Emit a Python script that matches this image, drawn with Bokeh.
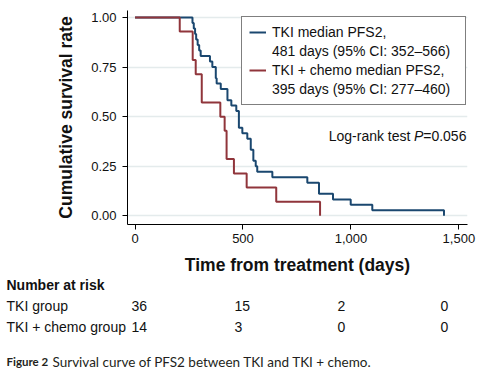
from bokeh.plotting import figure
from bokeh.models import Range1d, Legend, LegendItem, NumeralTickFormatter, FixedTicker
from bokeh.layouts import column
from bokeh.embed import file_html
from bokeh.resources import INLINE
from bokeh.core.properties import value

# ---------------- data ----------------
tki_time = [0, 266, 272, 278, 283, 290, 297, 304, 347, 358, 374, 378, 397, 428, 446,
            469, 481, 497, 520, 536, 548, 559, 566, 636, 798, 852, 917, 999, 1099, 1431]
tki_surv = [1.0, 0.972, 0.944, 0.917, 0.889, 0.861, 0.833, 0.806, 0.778, 0.75, 0.694,
            0.667, 0.639, 0.583, 0.556, 0.528, 0.444, 0.417, 0.389, 0.333, 0.278, 0.25,
            0.222, 0.194, 0.167, 0.111, 0.083, 0.056, 0.028, 0.0]
chemo_time = [0, 207, 267, 281, 309, 395, 415, 424, 458, 517, 654, 857]
chemo_surv = [1.0, 0.929, 0.786, 0.714, 0.571, 0.5, 0.429, 0.286, 0.214, 0.143, 0.071, 0.0]

x_ticks = [0, 500, 1000, 1500]
y_ticks = [0.0, 0.25, 0.5, 0.75, 1.0]

legend_lines = ["TKI median PFS2,", "481 days (95% CI: 352\u2013566)",
                "TKI + chemo median PFS2,", "395 days (95% CI: 277\u2013460)"]
logrank_label = "Log-rank test"
logrank_p = "=0.056"

risk_header = "Number at risk"
risk_times = [0, 500, 1000, 1500]
group_labels = ["TKI group", "TKI + chemo group"]
risk_tki = [36, 15, 2, 0]
risk_chemo = [14, 3, 0, 0]

caption_bold = "Figure 2"
caption_text = "Survival curve of PFS2 between TKI and TKI + chemo."

# ---------------- styling ----------------
FONT = "Liberation Sans"
BLUE = "#1a476f"
RED = "#90353b"
TXT = "#111111"

W = 480
p = figure(width=W, height=277, output_backend="svg", toolbar_location=None,
           x_range=Range1d(-35, 1540), y_range=Range1d(-0.0435, 1.035),
           min_border_left=127, min_border_right=W - 467, min_border_top=10,
           min_border_bottom=51)
p.frame_align = False
p.outline_line_color = None
p.background_fill_color = "white"
p.xgrid.visible = False
p.ygrid.grid_line_color = "#e4ebec"
p.ygrid.grid_line_width = 1.5

p.xaxis.ticker = FixedTicker(ticks=x_ticks)
p.xaxis.formatter = NumeralTickFormatter(format="0,0")
p.yaxis.ticker = FixedTicker(ticks=y_ticks)
p.yaxis.formatter = NumeralTickFormatter(format="0.00")
p.xaxis.axis_label = "Time from treatment (days)"
p.yaxis.axis_label = "Cumulative survival rate"

for ax in (p.xaxis[0], p.yaxis[0]):
    ax.axis_line_color = "black"
    ax.axis_line_width = 1
    ax.major_tick_line_color = "black"
    ax.major_tick_out = 5
    ax.major_tick_in = 0
    ax.minor_tick_line_color = None
    ax.major_label_text_font = FONT
    ax.major_label_text_font_size = "13px"
    ax.major_label_text_color = TXT
    ax.axis_label_text_font = FONT
    ax.axis_label_text_font_style = "bold"
    ax.axis_label_text_font_size = "17.5px"
    ax.axis_label_text_color = TXT
p.xaxis.major_label_standoff = 4
p.xaxis.axis_label_standoff = 9
p.yaxis.major_label_standoff = 6
p.yaxis.axis_label_standoff = 12
p.yaxis.major_label_orientation = "horizontal"

r_tki = p.step(tki_time, tki_surv, mode="after", line_color=BLUE, line_width=2)
r_chemo = p.step(chemo_time, chemo_surv, mode="after", line_color=RED, line_width=2)
blank_a = p.line(x=[], y=[], line_alpha=0)
blank_b = p.line(x=[], y=[], line_alpha=0)

legend = Legend(items=[
    LegendItem(label=legend_lines[0], renderers=[r_tki]),
    LegendItem(label=legend_lines[1], renderers=[blank_a]),
    LegendItem(label=legend_lines[2], renderers=[r_chemo]),
    LegendItem(label=legend_lines[3], renderers=[blank_b]),
], location=(114, 119))
legend.border_line_color = "black"
legend.border_line_width = 1
legend.background_fill_color = "white"
legend.background_fill_alpha = 1
legend.padding = 7
legend.spacing = 3
legend.margin = 0
legend.label_height = 16
legend.label_width = 186
legend.glyph_height = 16
legend.glyph_width = 17
legend.label_standoff = 6
legend.label_text_font = FONT
legend.label_text_font_size = "14px"
legend.label_text_color = TXT
p.add_layout(legend)

lr_x = [1535]
lr_y = [0.405]
p.text(x=lr_x, y=lr_y, text=[logrank_p], text_align="right", text_baseline="middle",
       text_font=value(FONT), text_font_size="14px", text_color=TXT)
p.text(x=lr_x, y=lr_y, text=["P"], x_offset=-43, text_align="right", text_baseline="middle",
       text_font=value(FONT), text_font_size="14px", text_font_style="italic", text_color=TXT)
p.text(x=lr_x, y=lr_y, text=[logrank_label], x_offset=-56, text_align="right",
       text_baseline="middle", text_font=value(FONT), text_font_size="14px", text_color=TXT)

# ---------------- number-at-risk table ----------------
row_px = 21.7
first_row_px = 28.0
t_h = 93
x0_px = 131.0
left_px = 6.0
px_per_day = 0.206
t = figure(width=W, height=t_h, output_backend="svg", toolbar_location=None,
           x_range=Range1d(-x0_px / px_per_day, (W - x0_px) / px_per_day),
           y_range=Range1d((t_h - first_row_px) / row_px, -first_row_px / row_px),
           x_axis_location=None, y_axis_location=None, min_border=0)
t.frame_align = False
t.outline_line_color = None
t.grid.visible = False
left_x = (left_px - x0_px) / px_per_day

t.text(x=[left_x], y=[-0.945], text=[risk_header], text_align="left", text_baseline="middle",
       text_font=value(FONT), text_font_size="14px", text_font_style="bold", text_color=TXT)
t.text(x=[left_x, left_x], y=[0, 1], text=group_labels, text_align="left",
       text_baseline="middle", text_font=value(FONT), text_font_size="14px", text_color=TXT)
t.text(x=risk_times + risk_times, y=[0] * len(risk_tki) + [1] * len(risk_chemo),
       text=[str(v) for v in risk_tki + risk_chemo], text_align="left",
       text_baseline="middle", text_font=value(FONT), text_font_size="14px", text_color=TXT)

cap_y = [2.6]
t.text(x=[left_x], y=cap_y, text=[caption_bold], text_align="left", text_baseline="middle",
       text_font=value("Lato"), text_font_size="11.5px", text_font_style="bold",
       text_color="#231f20")
t.text(x=[left_x], y=cap_y, text=[caption_text], x_offset=46, text_align="left",
       text_baseline="middle", text_font=value("Lato"), text_font_size="13.5px",
       text_color="#231f20")

layout = column(p, t, spacing=0)
open("out.html", "w").write(file_html(layout, INLINE))
